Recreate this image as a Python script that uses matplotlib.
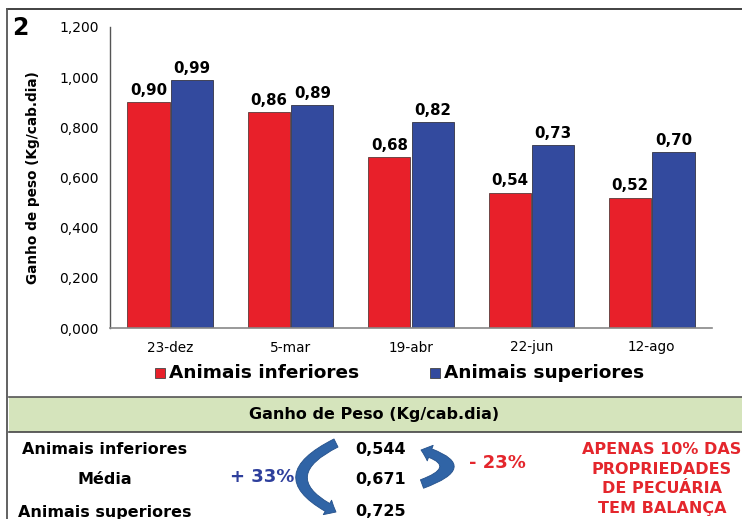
import matplotlib
matplotlib.use("Agg")
import matplotlib.pyplot as plt
import numpy as np
from matplotlib.patches import Rectangle, FancyArrowPatch

plt.rcParams['font.family'] = ['DejaVu Sans']

# --- data ---
datas = ["23-dez", "5-mar", "19-abr", "22-jun", "12-ago"]
inferiores = [0.90, 0.86, 0.68, 0.54, 0.52]
superiores = [0.99, 0.89, 0.82, 0.73, 0.70]
y_ticks = [0.0, 0.2, 0.4, 0.6, 0.8, 1.0, 1.2]
y_tick_labels = ["0,000", "0,200", "0,400", "0,600", "0,800", "1,000", "1,200"]

tabela_rotulos = ["Animais inferiores", "Média", "Animais superiores"]
tabela_valores = ["0,544", "0,671", "0,725"]
ganho_sup = "+ 33%"
perda_inf = "- 23%"
aviso = "APENAS 10% DAS\nPROPRIEDADES\nDE PECUÁRIA\nTEM BALANÇA"

RED = "#E8202A"
BLUE = "#334A9E"
ARROW = "#3064A6"

W, H = 742, 519
fig = plt.figure(figsize=(W / 100, H / 100), dpi=100)

# --- bar chart ---
ax = fig.add_axes([110 / W, 1 - 328 / H, 602 / W, 301 / H])
x = np.arange(len(datas))
bw = 0.35
off = 0.18
b1 = ax.bar(x - off, inferiores, bw, color=RED, edgecolor="#5a3a3a", linewidth=0.6)
b2 = ax.bar(x + off, superiores, bw, color=BLUE, edgecolor="#333344", linewidth=0.6)
for bars, vals in ((b1, inferiores), (b2, superiores)):
    for r, v in zip(bars, vals):
        ax.annotate(f"{v:.2f}".replace(".", ","), (r.get_x() + r.get_width() / 2, v),
                    xytext=(0, 3), textcoords="offset points", ha="center", va="bottom",
                    fontsize=10.8, fontweight="bold", color="black")

ax.set_xlim(-0.5, len(datas) - 0.5)
ax.set_ylim(0, 1.2)
ax.set_yticks(y_ticks)
ax.set_yticklabels(y_tick_labels, fontsize=10)
ax.set_xticks(x)
ax.set_xticklabels(datas, fontsize=9.8)
ax.tick_params(axis="both", length=0)
ax.tick_params(axis="y", pad=8)
ax.tick_params(axis="x", pad=9)
for s in ("top", "right"):
    ax.spines[s].set_visible(False)
ax.spines["left"].set_color("#555555")
ax.spines["left"].set_linewidth(1.0)
ax.spines["bottom"].set_color("#888888")
ax.spines["bottom"].set_linewidth(1.2)
ax.set_ylabel("Ganho de peso (Kg/cab.dia)", fontsize=9.8, fontweight="bold")
ax.yaxis.set_label_coords(-70 / 602, 0.5)

# --- overlay in pixel coordinates ---
ov = fig.add_axes([0, 0, 1, 1])
ov.set_xlim(0, W)
ov.set_ylim(H, 0)
ov.axis("off")
ov.patch.set_alpha(0)

# frame
ov.plot([7, W], [9, 9], color="#333333", lw=1.3)
ov.plot([7, 7], [9, H], color="#555555", lw=1.3)
ov.text(12, 28, "2", fontsize=17, fontweight="bold", ha="left", va="center")

# legend
ov.add_patch(Rectangle((155, 368), 10, 10, facecolor=RED, edgecolor="#444444", lw=0.6))
ov.text(169, 373, "Animais inferiores", fontsize=13.3, fontweight="bold", ha="left", va="center")
ov.add_patch(Rectangle((430, 368), 10, 10, facecolor=BLUE, edgecolor="#444444", lw=0.6))
ov.text(444, 373, "Animais superiores", fontsize=13.3, fontweight="bold", ha="left", va="center")

# table header band
ov.add_patch(Rectangle((9, 397), W - 9, 35, facecolor="#D5E4BC", edgecolor="none"))
ov.plot([9, W], [397, 397], color="#555555", lw=1.2)
ov.plot([9, W], [432, 432], color="#444444", lw=1.2)
ov.text(374, 414, "Ganho de Peso (Kg/cab.dia)", fontsize=11.5, fontweight="bold",
        ha="center", va="center")

rows_y = [449, 480, 512]
for lab, val, yy in zip(tabela_rotulos, tabela_valores, rows_y):
    ov.text(105, yy, lab, fontsize=11.5, fontweight="bold", ha="center", va="center")
    ov.text(381, yy, val, fontsize=11.5, fontweight="bold", ha="center", va="center")

ov.text(262, 477, ganho_sup, fontsize=13, fontweight="bold", color="#2E3F9C",
        ha="center", va="center")
ov.text(497, 463, perda_inf, fontsize=13, fontweight="bold", color="#E4262C",
        ha="center", va="center")
ov.text(662, 479, aviso, fontsize=11.5, fontweight="bold", color="#E4262C",
        ha="center", va="center", linespacing=1.38)

# curved arrows
a1 = FancyArrowPatch((336, 443), (336, 512), connectionstyle="arc3,rad=1.0",
                     arrowstyle="simple,head_width=12,head_length=7,tail_width=6.5",
                     facecolor=ARROW, edgecolor="#24508a", lw=0.6,
                     shrinkA=0, shrinkB=0, mutation_scale=1)
a2 = FancyArrowPatch((422, 484), (421, 450), connectionstyle="arc3,rad=1.5",
                     arrowstyle="simple,head_width=12,head_length=7,tail_width=6.5",
                     facecolor=ARROW, edgecolor="#24508a", lw=0.6,
                     shrinkA=0, shrinkB=0, mutation_scale=1)
ov.add_patch(a1)
ov.add_patch(a2)

fig.savefig("out.png", dpi=100)
